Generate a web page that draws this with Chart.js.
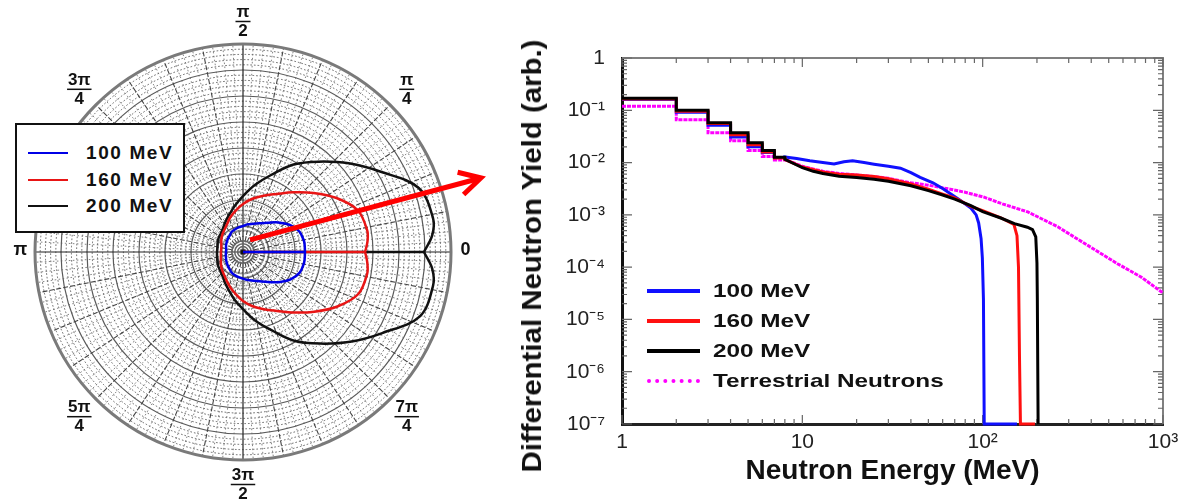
<!DOCTYPE html>
<html>
<head>
<meta charset="utf-8">
<script src="https://cdn.jsdelivr.net/npm/chart.js@4.4.0/dist/chart.umd.min.js"></script>
<style>
  body { margin: 0; background: #fff; font-family: "Liberation Sans", Arial, sans-serif; }
  #page { position: relative; width: 1196px; height: 502px; overflow: hidden; }
  #polarBox { position: absolute; left: 0; top: 0; width: 490px; height: 502px; }
  #specBox { position: absolute; left: 490px; top: 0; width: 706px; height: 502px; }
  #polarLegend { position: absolute; left: 15px; top: 123px; width: 166px; height: 106px; border: 2px solid #111; background: #fff; }
  #specLegend { position: absolute; left: 0; top: 0; }
  #yTitle { position: absolute; left: 532px; top: 256px; font-weight: bold; font-size: 28px; color: #111; white-space: nowrap;
            transform: translate(-50%, -50%) rotate(-90deg) scaleX(1.05); }
  .swatch { position: absolute; height: 0; }
  .lbl { position: absolute; font-weight: bold; color: #111; white-space: nowrap; line-height: 22px; }
</style>
</head>
<body>
<div id="page">
  <div id="polarBox"><canvas id="polarChart"></canvas></div>
  <div id="polarLegend"></div>
  <div id="specBox"><canvas id="specChart"></canvas></div>
  <div id="specLegend"></div>
  <div id="yTitle">Differential Neutron Yield (arb.)</div>
</div>
<script>
// ---- left: angular distribution (polar) ----
const polarAngles = [0, 5, 10, 20, 30, 40, 50, 60, 70, 80, 90, 100, 110, 120, 130, 140, 150, 160, 170, 180,
  190, 200, 210, 220, 230, 240, 250, 260, 270, 280, 290, 300, 310, 320, 330, 340, 350, 355, 360];
const polar100 = [.298, .298, .298, .288, .260, .221, .183, .159, .144, .135, .125, .120, .115, .111, .101, .096, .091, .087, .082, .082,
  .084, .087, .092, .097, .103, .112, .118, .123, .128, .137, .147, .163, .188, .226, .264, .290, .298, .298, .298];
const polar160 = [.587, .601, .606, .587, .519, .442, .375, .322, .288, .260, .231, .202, .178, .154, .139, .130, .120, .111, .106, .106,
  .108, .113, .122, .132, .142, .158, .180, .205, .236, .265, .293, .327, .380, .447, .524, .590, .606, .600, .587];
const polar200 = [.870, .913, .928, .899, .769, .663, .567, .486, .394, .327, .269, .226, .192, .168, .149, .139, .135, .130, .125, .125,
  .127, .131, .137, .142, .152, .172, .197, .233, .275, .334, .400, .493, .575, .672, .777, .905, .928, .913, .870];
const polarNames = ['100 MeV', '160 MeV', '200 MeV'];
const polarColors = ['#0000e6', '#e81515', '#111111'];
const angleLabelDeg = [0, 45, 90, 135, 180, 225, 270, 315];
const angleLabelText = ['0', 'π/4', 'π/2', '3π/4', 'π', '5π/4', '3π/2', '7π/4'];
const arrowFrom = [0.034, 0.058];
const arrowTo = [1.144, 0.356];

// ---- right: neutron spectra ----
const stepEdges = [1, 2, 3, 4, 5, 6, 7, 8];
const step100 = [0.16, 0.092, 0.052, 0.031, 0.020, 0.0155, 0.0125];
const step160 = [0.165, 0.096, 0.056, 0.034, 0.022, 0.016, 0.0122];
const step200 = [0.17, 0.10, 0.058, 0.037, 0.024, 0.017, 0.0126];
const stepTerr = [0.12, 0.066, 0.037, 0.026, 0.017, 0.013, 0.0112];

const e100 = [8, 9.3, 11, 13, 15, 17, 19, 22, 25, 30, 35, 40, 45, 53, 60, 75, 86, 92, 95, 98, 99.6, 101, 102, 155];
const y100 = [0.0128, 0.0120, 0.0108, 0.0100, 0.0094, 0.0104, 0.0108, 0.0100, 0.0093, 0.0085, 0.0078, 0.0064, 0.0052, 0.0041,
  0.0032, 0.0019, 0.00135, 0.0010, 0.0007, 0.00035, 0.00015, 0.000024, 1e-7, 1e-7];
const e160 = [8, 10, 13, 16, 20, 25, 30, 40, 50, 60, 70, 86, 100, 126, 149, 155, 158, 160, 162, 195];
const y160 = [0.0115, 0.0082, 0.0066, 0.0060, 0.0058, 0.0054, 0.0049, 0.0039, 0.0031, 0.0025, 0.0021, 0.00145, 0.0012,
  0.00088, 0.00066, 0.00040, 0.0001, 0.000002, 1e-7, 1e-7];
const e200 = [8, 9, 10, 11.5, 13, 16, 20, 25, 30, 40, 50, 60, 70, 86, 100, 126, 150, 177, 189, 197, 200, 201, 203];
const y200 = [0.0115, 0.0095, 0.0080, 0.0068, 0.0062, 0.0055, 0.0052, 0.0048, 0.0044, 0.0036, 0.0029, 0.0024, 0.0020, 0.0015,
  0.00115, 0.00087, 0.00068, 0.00058, 0.00052, 0.00038, 0.00012, 0.000024, 1e-7];
const eTerr = [8, 10, 13, 16, 20, 25, 30, 40, 50, 66, 80, 101, 130, 178, 261, 364, 562, 755, 1000];
const yTerr = [0.0115, 0.0085, 0.0068, 0.0062, 0.0058, 0.0054, 0.0050, 0.0041, 0.0037, 0.0031, 0.0027, 0.0022, 0.0016,
  0.00114, 0.00059, 0.00029, 0.000115, 0.000065, 0.000032];
const specNames = ['100 MeV', '160 MeV', '200 MeV', 'Terrestrial Neutrons'];
const specColors = ['#1010ff', '#ff1010', '#000000', '#ff00ff'];
const xTickExp = [0, 1, 2, 3];
const xTickLabels = ['1', '10', '10²', '10³'];
const yTickExp = [0, -1, -2, -3, -4, -5, -6, -7];
const yTickLabels = ['1', '10⁻¹', '10⁻²', '10⁻³', '10⁻⁴', '10⁻⁵', '10⁻⁶', '10⁻⁷'];

const FONT = '"Liberation Sans", Arial, sans-serif';
Chart.defaults.font.family = FONT;
Chart.defaults.color = '#111';

// closed polar curve round the angles
function polarRing(radii) {
  return polarAngles.map((deg, i) => {
    const a = deg * Math.PI / 180;
    return { x: radii[i] * Math.cos(a), y: radii[i] * Math.sin(a) };
  });
}

// polar grid drawn from the chart's own x/y scales
const polarGrid = {
  id: 'polarGrid',
  beforeDatasetsDraw(chart) {
    const { ctx, scales: { x, y } } = chart;
    const cx = x.getPixelForValue(0), cy = y.getPixelForValue(0);
    const R = x.getPixelForValue(1) - cx;
    ctx.save();
    for (let k = 1; k < 40; k++) {
      const major = k % 5 === 0;
      ctx.beginPath();
      ctx.setLineDash(major ? [] : [1.6, 2]);
      ctx.strokeStyle = major ? '#5a5a5a' : '#555';
      ctx.lineWidth = major ? 1.2 : 0.9;
      ctx.arc(cx, cy, R * k / 40, 0, Math.PI * 2);
      ctx.stroke();
    }
    for (let k = 0; k < 128; k++) {
      const a = k * Math.PI * 2 / 128;
      const axis = k % 32 === 0, major = k % 4 === 0;
      const r0 = axis ? 0 : major ? 0.05 : 0.1;
      ctx.beginPath();
      ctx.setLineDash(axis ? [] : major ? [5, 2] : [1.6, 2.4]);
      ctx.strokeStyle = axis ? '#222' : major ? '#444' : '#666';
      ctx.lineWidth = axis ? 1.2 : major ? 1.1 : 0.8;
      ctx.moveTo(cx + Math.cos(a) * R * r0, cy - Math.sin(a) * R * r0);
      ctx.lineTo(cx + Math.cos(a) * R, cy - Math.sin(a) * R);
      ctx.stroke();
    }
    ctx.setLineDash([]);
    ctx.strokeStyle = '#7a7a7a';
    ctx.lineWidth = 3;
    ctx.beginPath();
    ctx.arc(cx, cy, R, 0, Math.PI * 2);
    ctx.stroke();
    // small rings at the centre
    ctx.strokeStyle = '#666';
    ctx.lineWidth = 1.5;
    [0.013, 0.026, 0.04, 0.054].forEach(r => {
      ctx.beginPath();
      ctx.arc(cx, cy, R * r, 0, Math.PI * 2);
      ctx.stroke();
    });
    ctx.fillStyle = '#111';
    ctx.beginPath();
    ctx.arc(cx, cy, 2.5, 0, Math.PI * 2);
    ctx.fill();
    ctx.restore();
  }
};

// angle labels + red arrow
const polarDecor = {
  id: 'polarDecor',
  afterDraw(chart) {
    const { ctx, scales: { x, y } } = chart;
    const px = (u, v) => [x.getPixelForValue(u), y.getPixelForValue(v)];
    ctx.save();
    ctx.fillStyle = '#111';
    ctx.strokeStyle = '#111';
    ctx.textAlign = 'center';
    ctx.textBaseline = 'middle';
    angleLabelDeg.forEach((deg, i) => {
      const t = angleLabelText[i];
      const a = deg * Math.PI / 180;
      if (t.includes('/')) {
        const [num, den] = t.split('/');
        const [lx, ly] = px(Math.cos(a) * 1.113, Math.sin(a) * 1.113);
        ctx.font = 'bold 17px ' + FONT;
        ctx.fillText(num, lx, ly - 8);
        ctx.fillText(den, lx, ly + 11);
        const w = Math.max(ctx.measureText(num).width, ctx.measureText(den).width) + 2;
        ctx.lineWidth = 1.5;
        ctx.beginPath();
        ctx.moveTo(lx - w / 2, ly + 1);
        ctx.lineTo(lx + w / 2, ly + 1);
        ctx.stroke();
      } else {
        const [lx, ly] = px(Math.cos(a) * 1.07, Math.sin(a) * 1.07 + 0.01);
        ctx.font = 'bold 18px ' + FONT;
        ctx.fillText(t, lx, ly);
      }
    });
    const [ax, ay] = px(arrowFrom[0], arrowFrom[1]);
    const [bx, by] = px(arrowTo[0], arrowTo[1]);
    const ang = Math.atan2(by - ay, bx - ax);
    ctx.strokeStyle = '#ff0000';
    ctx.lineWidth = 5;
    ctx.beginPath();
    ctx.moveTo(ax, ay);
    ctx.lineTo(bx - 2 * Math.cos(ang), by - 2 * Math.sin(ang));
    ctx.stroke();
    ctx.beginPath();
    ctx.moveTo(bx - 24 * Math.cos(ang - 0.5), by - 24 * Math.sin(ang - 0.5));
    ctx.lineTo(bx, by);
    ctx.lineTo(bx - 24 * Math.cos(ang + 0.5), by - 24 * Math.sin(ang + 0.5));
    ctx.stroke();
    ctx.restore();
  }
};

// each energy: a smooth closed ring plus the straight line from the origin along 0
const polarSets = [];
[polar100, polar160, polar200].forEach((r, i) => {
  const common = { showLine: true, borderColor: polarColors[i], borderWidth: 2.5, pointRadius: 0, fill: false, clip: false };
  polarSets.push({ ...common, label: polarNames[i], data: polarRing(r), tension: 0.35 });
  polarSets.push({ ...common, label: polarNames[i] + ' axis', data: [{ x: 0, y: 0 }, { x: r[0], y: 0 }], tension: 0 });
});

new Chart(document.getElementById('polarChart'), {
  type: 'scatter',
  data: { datasets: polarSets },
  options: {
    responsive: true,
    maintainAspectRatio: false,
    animation: false,
    layout: { padding: { left: 35, right: 39, top: 44, bottom: 42 } },
    scales: {
      x: { type: 'linear', min: -1, max: 1, display: false },
      y: { type: 'linear', min: -1, max: 1, display: false }
    },
    plugins: { legend: { display: false }, tooltip: { enabled: false } }
  },
  plugins: [polarGrid, polarDecor]
});

// polar legend box
const polarLegend = document.getElementById('polarLegend');
polarNames.forEach((name, i) => {
  const yc = [28, 55, 81][i];
  polarLegend.insertAdjacentHTML('beforeend',
    `<div class="swatch" style="left:11px;width:40px;top:${yc - 1}px;border-top:2.5px solid ${polarColors[i]}"></div>` +
    `<div class="lbl" style="left:69px;top:${yc - 11}px;font-size:19px;letter-spacing:1.6px">${name}</div>`);
});

// ---- right chart ----
function spectrumPoints(stepVals, energies, yields) {
  const pts = [];
  stepVals.forEach((v, i) => pts.push({ x: stepEdges[i], y: v }, { x: stepEdges[i + 1], y: v }));
  energies.forEach((e, i) => pts.push({ x: e, y: yields[i] }));
  return pts;
}

function decadeLabel(exps, labels) {
  return function (value) {
    const e = Math.log10(value);
    const r = Math.round(e);
    if (Math.abs(e - r) > 1e-6) return '';
    const i = exps.indexOf(r);
    return i < 0 ? '' : labels[i];
  };
}

// frame on top/right and inward ticks on all four sides
const specFrame = {
  id: 'specFrame',
  beforeDatasetsDraw(chart) {
    const { ctx, chartArea: a, scales: { x, y } } = chart;
    ctx.save();
    ctx.strokeStyle = '#808080';
    ctx.lineWidth = 2;
    ctx.beginPath();
    ctx.moveTo(a.left, a.top);
    ctx.lineTo(a.right, a.top);
    ctx.lineTo(a.right, a.bottom);
    ctx.stroke();
    ctx.lineWidth = 1.2;
    ctx.strokeStyle = '#666';
    ctx.beginPath();
    for (let d = 0; d <= 3; d++) {
      for (let m = 1; m <= 9; m++) {
        const v = m * Math.pow(10, d);
        if (v > 1000) break;
        const p = x.getPixelForValue(v);
        const len = m === 1 ? 9 : 5;
        ctx.moveTo(p, a.bottom); ctx.lineTo(p, a.bottom - len);
        ctx.moveTo(p, a.top); ctx.lineTo(p, a.top + len);
      }
    }
    for (let d = -7; d <= 0; d++) {
      for (let m = 1; m <= 9; m++) {
        const v = m * Math.pow(10, d);
        if (v > 1) break;
        const p = y.getPixelForValue(v);
        const len = m === 1 ? 10 : 5;
        ctx.moveTo(a.left, p); ctx.lineTo(a.left + len, p);
        ctx.moveTo(a.right, p); ctx.lineTo(a.right - len, p);
      }
    }
    ctx.stroke();
    ctx.restore();
  }
};

const specData = [
  { name: specNames[2], color: specColors[2], pts: spectrumPoints(step200, e200, y200), dash: [] },
  { name: specNames[1], color: specColors[1], pts: spectrumPoints(step160, e160, y160), dash: [] },
  { name: specNames[0], color: specColors[0], pts: spectrumPoints(step100, e100, y100), dash: [] },
  { name: specNames[3], color: specColors[3], pts: spectrumPoints(stepTerr, eTerr, yTerr), dash: [4, 1] }
];

new Chart(document.getElementById('specChart'), {
  type: 'scatter',
  data: {
    datasets: specData.map(s => ({
      label: s.name,
      data: s.pts,
      showLine: true,
      borderColor: s.color,
      borderWidth: 3,
      borderDash: s.dash,
      pointRadius: 0,
      fill: false,
      tension: 0,
      clip: 4
    }))
  },
  options: {
    responsive: true,
    maintainAspectRatio: false,
    animation: false,
    layout: { padding: { left: 0, right: 33, top: 58, bottom: 0 } },
    scales: {
      x: {
        type: 'logarithmic', min: 1, max: 1000,
        grid: { display: false, drawTicks: false },
        border: { display: true, color: '#222', width: 3 },
        ticks: { autoSkip: false, maxRotation: 0, padding: 6, font: { size: 21 }, color: '#222', callback: decadeLabel(xTickExp, xTickLabels) },
        title: { display: true, text: 'Neutron Energy (MeV)', font: { size: 28, weight: 'bold' }, color: '#111', padding: { top: 0, bottom: 14 } },
        afterFit(scale) { scale.height = 78; }
      },
      y: {
        type: 'logarithmic', min: 1e-7, max: 1,
        grid: { display: false, drawTicks: false },
        border: { display: true, color: '#111', width: 3 },
        ticks: { autoSkip: false, padding: 17, font: { size: 21 }, color: '#222', callback: decadeLabel(yTickExp, yTickLabels) },
        title: { display: false },
        afterFit(scale) { scale.width = 132; }
      }
    },
    plugins: { legend: { display: false }, tooltip: { enabled: false } }
  },
  plugins: [specFrame]
});

// spectrum legend (inside the plot)
const specLegend = document.getElementById('specLegend');
specNames.forEach((name, i) => {
  const yc = [291, 321, 351, 381][i];
  const line = i === 3 ? `4px dotted ${specColors[i]}` : `4px solid ${specColors[i]}`;
  specLegend.insertAdjacentHTML('beforeend',
    `<div class="swatch" style="left:647px;width:53px;top:${yc - 2}px;border-top:${line}"></div>` +
    `<div class="lbl" style="left:713px;top:${yc - 11}px;font-size:19px;transform:scaleX(1.28);transform-origin:left center">${name}</div>`);
});
</script>
</body>
</html>
